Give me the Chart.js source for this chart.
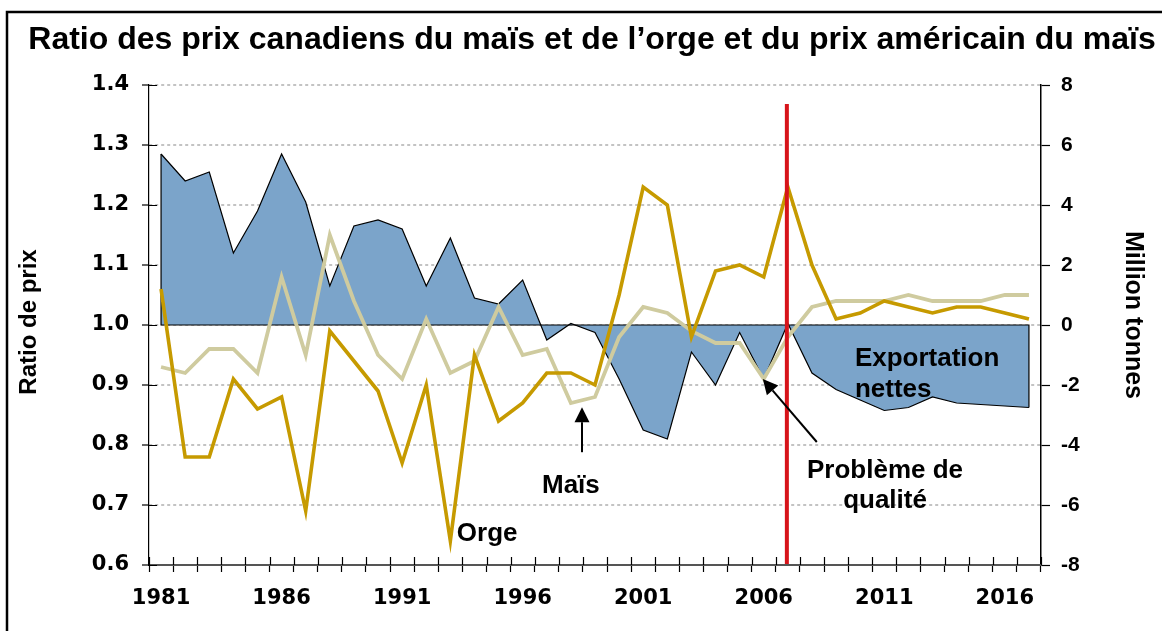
<!DOCTYPE html>
<html>
<head>
<meta charset="utf-8">
<script src="https://cdn.jsdelivr.net/npm/chart.js@4.4.1/dist/chart.umd.min.js"></script>
<style>
  html, body { margin: 0; padding: 0; background: #ffffff; }
  #wrap { width: 1162px; height: 631px; }
</style>
</head>
<body>
<div id="wrap"><canvas id="c" width="1162" height="631"></canvas></div>
<script>
// ---------- data ----------
const years = ['1981','1982','1983','1984','1985','1986','1987','1988','1989','1990',
               '1991','1992','1993','1994','1995','1996','1997','1998','1999','2000',
               '2001','2002','2003','2004','2005','2006','2007','2008','2009','2010',
               '2011','2012','2013','2014','2015','2016','2017'];
const yearLabels = ['1981','1986','1991','1996','2001','2006','2011','2016'];

// Net exports (million tonnes, right axis)
const netExports = [5.7, 4.8, 5.1, 2.4, 3.8, 5.7, 4.1, 1.3, 3.3, 3.5,
                    3.2, 1.3, 2.9, 0.9, 0.7, 1.5, -0.5, 0.05, -0.25, -1.8,
                    -3.5, -3.8, -0.9, -2.0, -0.25, -1.8, 0.05, -1.6, -2.15, -2.5,
                    -2.85, -2.75, -2.4, -2.6, -2.65, -2.7, -2.75];
// Barley price ratio (left axis)
const orge = [1.06, 0.78, 0.78, 0.91, 0.86, 0.88, 0.69, 0.99, 0.94, 0.89,
              0.77, 0.90, 0.64, 0.95, 0.84, 0.87, 0.92, 0.92, 0.90, 1.05,
              1.23, 1.20, 0.98, 1.09, 1.10, 1.08, 1.23, 1.10, 1.01, 1.02,
              1.04, 1.03, 1.02, 1.03, 1.03, 1.02, 1.01];
// Corn price ratio (left axis)
const mais = [0.93, 0.92, 0.96, 0.96, 0.92, 1.08, 0.95, 1.15, 1.04, 0.95,
              0.91, 1.01, 0.92, 0.94, 1.03, 0.95, 0.96, 0.87, 0.88, 0.98,
              1.03, 1.02, 0.99, 0.97, 0.97, 0.91, 0.98, 1.03, 1.04, 1.04,
              1.04, 1.05, 1.04, 1.04, 1.04, 1.05, 1.05];

const leftTicks = { min: 0.6, max: 1.4, step: 0.1 };
const rightTicks = { min: -8, max: 8, step: 2 };

const titleText = 'Ratio des prix canadiens du maïs et de l’orge et du prix américain du maïs';
const leftTitle = 'Ratio de prix';
const rightTitle = 'Million tonnes';
const qualityYear = '2007';

// ---------- styling / annotation placement (data space) ----------
const ARIAL = "'Liberation Sans', Arial, Helvetica, sans-serif";
const DEJA = "'DejaVu Sans', Verdana, sans-serif";
const textNotes = [
  { text: 'Orge', x: 12.27, y: 0.64, align: 'left' },
  { text: 'Maïs', x: 17.0, y: 0.72, align: 'center' },
  { text: 'Problème de', x: 30.03, y: 0.745, align: 'center' },
  { text: 'qualité', x: 30.03, y: 0.695, align: 'center' },
  { text: 'Exportation', x: 28.78, y: 0.9317, align: 'left' },
  { text: 'nettes', x: 28.78, y: 0.88, align: 'left' }
];
const arrows = [
  { from: [17.46, 0.788], to: [17.46, 0.863] },
  { from: [27.2, 0.805], to: [24.96, 0.91] }
];

const decor = {
  id: 'decor',
  beforeDraw(chart) {
    const ctx = chart.ctx;
    ctx.save();
    ctx.strokeStyle = '#000';
    ctx.lineWidth = 2.5;
    ctx.strokeRect(7, 12, 1200, 700);
    ctx.restore();
  },
  afterDatasetDraw(chart, args) {
    if (args.index !== 0) return;
    const { ctx, scales: { x, y1 } } = chart;
    const n = netExports.length;
    const x0 = x.getPixelForValue(0), xn = x.getPixelForValue(n - 1);
    const z = y1.getPixelForValue(0);
    ctx.save();
    ctx.strokeStyle = '#000';
    ctx.lineWidth = 1.2;
    ctx.beginPath();
    ctx.moveTo(x0, y1.getPixelForValue(netExports[0]));
    ctx.lineTo(x0, z);
    ctx.lineTo(xn, z);
    ctx.lineTo(xn, y1.getPixelForValue(netExports[n - 1]));
    ctx.stroke();
    ctx.restore();
  },
  afterDatasetsDraw(chart) {
    const { ctx, scales: { x, y, y1 }, chartArea: a } = chart;
    // red vertical line (quality problem year)
    const rx = x.getPixelForValue(years.indexOf(qualityYear)) - 1;
    ctx.save();
    ctx.strokeStyle = '#d7141a';
    ctx.lineWidth = 4;
    ctx.beginPath();
    ctx.moveTo(rx, y1.getPixelForValue(7.37));
    ctx.lineTo(rx, a.bottom);
    ctx.stroke();
    // arrows
    ctx.strokeStyle = '#000';
    ctx.fillStyle = '#000';
    ctx.lineWidth = 2;
    arrows.forEach(ar => {
      const fx = x.getPixelForValue(ar.from[0]), fy = y.getPixelForValue(ar.from[1]);
      const tx = x.getPixelForValue(ar.to[0]), ty = y.getPixelForValue(ar.to[1]);
      const ang = Math.atan2(ty - fy, tx - fx);
      const L = 15, W = 7.5;
      const bx = tx - L * Math.cos(ang), by = ty - L * Math.sin(ang);
      ctx.beginPath();
      ctx.moveTo(fx, fy);
      ctx.lineTo(bx, by);
      ctx.stroke();
      ctx.beginPath();
      ctx.moveTo(tx, ty);
      ctx.lineTo(bx + W * Math.sin(ang), by - W * Math.cos(ang));
      ctx.lineTo(bx - W * Math.sin(ang), by + W * Math.cos(ang));
      ctx.closePath();
      ctx.fill();
    });
    // text notes
    ctx.font = 'bold 26px ' + ARIAL;
    ctx.textBaseline = 'alphabetic';
    textNotes.forEach(t => {
      ctx.textAlign = t.align;
      ctx.fillText(t.text, x.getPixelForValue(t.x), y.getPixelForValue(t.y));
    });
    ctx.restore();
  },
  afterDraw(chart) {
    const { ctx, scales: { x, y }, chartArea: a } = chart;
    ctx.save();
    // bottom axis line
    ctx.strokeStyle = '#555';
    ctx.lineWidth = 2;
    ctx.beginPath();
    ctx.moveTo(a.left, a.bottom);
    ctx.lineTo(a.right, a.bottom);
    ctx.stroke();
    // inner halves of crossing ticks
    ctx.strokeStyle = '#000';
    ctx.lineWidth = 1.2;
    ctx.beginPath();
    for (let k = 0; k <= years.length; k++) {
      const px = Math.round(x.getPixelForValue(k - 0.5)) + 0.5;
      ctx.moveTo(px, a.bottom);
      ctx.lineTo(px, a.bottom - 8);
    }
    y.ticks.forEach(t => {
      const py = Math.round(y.getPixelForValue(t.value)) + 0.5;
      ctx.moveTo(a.left, py);
      ctx.lineTo(a.left + 8, py);
    });
    ctx.stroke();
    // axis titles
    ctx.fillStyle = '#000';
    ctx.textAlign = 'center';
    ctx.textBaseline = 'middle';
    ctx.font = 'bold 24px ' + ARIAL;
    ctx.save();
    ctx.translate(29, (a.top + a.bottom) / 2 - 3);
    ctx.rotate(-Math.PI / 2);
    ctx.fillText(leftTitle, 0, 0);
    ctx.restore();
    ctx.font = 'bold 25px ' + ARIAL;
    ctx.save();
    ctx.translate(1133, (a.top + a.bottom) / 2 - 10);
    ctx.rotate(Math.PI / 2);
    ctx.fillText(rightTitle, 0, 0);
    ctx.restore();
    ctx.restore();
  }
};

new Chart(document.getElementById('c'), {
  type: 'line',
  data: {
    labels: years,
    datasets: [
      {
        label: 'Exportation nettes',
        data: netExports,
        yAxisID: 'y1',
        fill: 'origin',
        backgroundColor: '#7ba4ca',
        borderColor: '#000',
        borderWidth: 1.2,
        pointRadius: 0,
        tension: 0,
        order: 3
      },
      {
        label: 'Maïs',
        data: mais,
        yAxisID: 'y',
        fill: false,
        borderColor: '#cfcb9f',
        borderWidth: 3.8,
        pointRadius: 0,
        tension: 0,
        order: 2
      },
      {
        label: 'Orge',
        data: orge,
        yAxisID: 'y',
        fill: false,
        borderColor: '#c69a00',
        borderWidth: 3.6,
        pointRadius: 0,
        tension: 0,
        order: 1
      }
    ]
  },
  options: {
    responsive: false,
    devicePixelRatio: 1,
    animation: false,
    layout: { padding: { left: 22, right: 0, top: 0, bottom: 0 } },
    plugins: {
      legend: { display: false },
      tooltip: { enabled: false },
      title: {
        display: true,
        text: titleText,
        color: '#000',
        font: { family: ARIAL, size: 32, weight: 'bold' },
        padding: { top: 21, bottom: 25.6 }
      }
    },
    scales: {
      x: {
        type: 'category',
        offset: true,
        grid: {
          display: true,
          drawOnChartArea: false,
          offset: true,
          color: '#000',
          tickColor: '#000',
          tickLength: 7,
          tickWidth: 1.2
        },
        border: { display: false },
        ticks: {
          autoSkip: false,
          maxRotation: 0,
          minRotation: 0,
          padding: 14,
          color: '#000',
          font: { family: DEJA, size: 21, weight: 'bold' },
          callback: function (v) {
            const lab = this.getLabelForValue(v);
            return yearLabels.includes(lab) ? lab : '';
          }
        },
        afterFit(s) { s.height = 66; }
      },
      y: {
        position: 'left',
        min: leftTicks.min,
        max: leftTicks.max,
        grid: {
          color: (c) => Math.abs(c.tick.value - leftTicks.min) < 1e-6 ? 'rgba(0,0,0,0)' : '#c3c3c3',
          lineWidth: 2,
          tickColor: '#000',
          tickLength: 7,
          tickWidth: 1.2
        },
        border: { display: true, color: '#000', width: 1.2, dash: [3, 3] },
        ticks: {
          stepSize: leftTicks.step,
          padding: 13,
          color: '#000',
          font: { family: DEJA, size: 21, weight: 'bold' },
          callback: (v) => Number(v).toFixed(1)
        },
        afterFit(s) { s.width = 127; }
      },
      y1: {
        position: 'right',
        min: rightTicks.min,
        max: rightTicks.max,
        grid: {
          drawOnChartArea: false,
          color: '#000',
          tickColor: '#000',
          tickLength: 9,
          tickWidth: 1.2
        },
        border: { display: true, color: '#000', width: 1.5 },
        ticks: {
          stepSize: rightTicks.step,
          padding: 11,
          color: '#000',
          font: { family: ARIAL, size: 21, weight: 'bold' }
        },
        afterFit(s) { s.width = 121; }
      }
    }
  },
  plugins: [decor]
});
</script>
</body>
</html>
